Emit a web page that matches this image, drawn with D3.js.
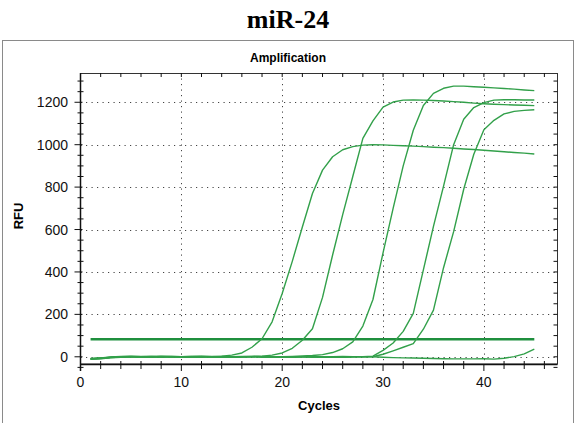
<!DOCTYPE html>
<html>
<head>
<meta charset="utf-8">
<script src="https://cdn.jsdelivr.net/npm/d3@7"></script>
<style>
  html, body { margin: 0; padding: 0; background: #fff; }
  svg { display: block; }
  text { font-family: "Liberation Sans", Arial, sans-serif; }
</style>
</head>
<body>
<div id="chart"></div>
<script>

var cycles = [1, 2, 3, 4, 5, 6, 7, 8, 9, 10, 11, 12, 13, 14, 15, 16, 17, 18, 19, 20, 21, 22,
  23, 24, 25, 26, 27, 28, 29, 30, 31, 32, 33, 34, 35, 36, 37, 38, 39, 40, 41, 42, 43, 44, 45]

// RFU per cycle, one array per well
var wellA = [-9, -6, -3, 0, 2, 1, -1, 1, 2, 0, -2, 1, 2, 3, 8, 18, 45, 85, 165, 298, 450, 612,
  770, 880, 943, 976, 991, 998, 1000, 999, 997, 995, 993, 991, 988, 986, 983, 980, 977, 974, 970, 967, 963, 960, 956]
var wellB = [-10, -7, -2, 1, 3, 0, -2, 0, 2, 1, -1, -2, 0, 2, 1, -1, 0, 3, 8, 18, 40, 78,
  132, 280, 480, 670, 850, 1030, 1112, 1177, 1201, 1210, 1211, 1210, 1208, 1206, 1203, 1200, 1196, 1193, 1191, 1189, 1187, 1186, 1184]
var wellC = [-8, -5, -1, 2, 0, -2, 1, 3, 1, -1, 0, 2, 1, -1, -2, 0, 2, 1, -1, 0, 2, 4,
  6, 10, 20, 38, 70, 145, 270, 490, 700, 900, 1068, 1185, 1242, 1266, 1276, 1276, 1273, 1271, 1268, 1265, 1262, 1258, 1255]
var wellD = [-12, -8, -4, -1, 1, 2, 0, -2, -1, 1, 2, 0, -2, -1, 1, 2, 0, -2, -3, -1, 1, 0,
  -2, -1, 1, 2, 1, 0, 3, 30, 65, 120, 205, 410, 615, 805, 1000, 1120, 1175, 1198, 1210, 1212, 1212, 1211, 1211]
var wellE = [-11, -9, -5, -2, 0, 1, 3, 1, -1, 0, 2, 3, 1, -2, -3, -1, 1, 2, 0, -2, -3, -1,
  0, -2, -3, -2, 0, 1, 0, 12, 28, 45, 62, 130, 220, 420, 590, 790, 955, 1070, 1115, 1145, 1157, 1162, 1165]
var wellF = [-10, -7, -3, 0, -1, -3, -1, 2, 0, -2, -1, 1, 0, -2, -1, 1, 2, 0, -2, -3, -1, 1,
  2, 0, -2, -3, -1, 1, 0, -2, -4, -5, -6, -7, -8, -9, -10, -10, -10, -9, -11, -7, 1, 14, 36]

var wells = [wellA, wellB, wellC, wellD, wellE, wellF]

var threshold = 83
var thresholdCycles = [1, 45]

var xTicks = [0, 10, 20, 30, 40]
var xMinor = [2, 4, 6, 8, 12, 14, 16, 18, 22, 24, 26, 28, 32, 34, 36, 38, 42, 44, 46]
var yTicks = [0, 200, 400, 600, 800, 1000, 1200]
var yMinor = [-50, 50, 100, 150, 250, 300, 350, 450, 500, 550, 650, 700, 750, 850, 900, 950,
  1050, 1100, 1150, 1250, 1300]


var width = 577, height = 423
var svg = d3.select('#chart').append('svg')
  .attr('width', width).attr('height', height)

svg.append('rect').attr('width', width).attr('height', height).attr('fill', '#fff')

// outer panel frame
svg.append('rect')
  .attr('x', 2.5).attr('y', 40.5).attr('width', 571).attr('height', 390)
  .attr('fill', 'none').attr('stroke', '#8a8a8a').attr('stroke-width', 1)

var x = d3.scaleLinear().domain([0, 47.3]).range([80.5, 557.5])
var y = d3.scaleLinear().domain([-34, 1338]).range([364, 73])

var plot = {left: x.range()[0], right: x.range()[1], top: y.range()[1], bottom: y.range()[0]}

// dotted grid
var grid = svg.append('g')
  .attr('stroke', '#444').attr('stroke-width', 1).attr('stroke-dasharray', '1.2,4.3')

grid.selectAll('line.gx').data(xTicks.slice(1)).join('line')
  .attr('x1', d => Math.round(x(d)) + 0.5).attr('x2', d => Math.round(x(d)) + 0.5)
  .attr('y1', plot.top).attr('y2', plot.bottom)

grid.selectAll('line.gy').data(yTicks).join('line')
  .attr('x1', plot.left).attr('x2', plot.right)
  .attr('y1', d => Math.round(y(d)) + 0.5).attr('y2', d => Math.round(y(d)) + 0.5)

// threshold
svg.append('line')
  .attr('x1', x(thresholdCycles[0])).attr('x2', x(thresholdCycles[1]))
  .attr('y1', y(threshold)).attr('y2', y(threshold))
  .attr('stroke', '#1f8f3e').attr('stroke-width', 2.4)

// amplification curves
var line = d3.line()
  .x((d, i) => x(cycles[i]))
  .y(d => y(d))

svg.append('g').selectAll('path').data(wells).join('path')
  .attr('d', line)
  .attr('fill', 'none')
  .attr('stroke', '#32a04a')
  .attr('stroke-width', 1.4)
  .attr('stroke-linejoin', 'round')

// plot frame + ticks
var axis = svg.append('g').attr('stroke', '#111').attr('stroke-width', 1)

axis.append('rect')
  .attr('x', plot.left).attr('y', plot.top + 0.5)
  .attr('width', plot.right - plot.left).attr('height', plot.bottom - plot.top - 0.5)
  .attr('fill', 'none').attr('stroke', '#333')

axis.append('line')
  .attr('x1', plot.left).attr('x2', plot.right)
  .attr('y1', plot.bottom + 0.5).attr('y2', plot.bottom + 0.5)
  .attr('stroke-width', 1.5)
axis.append('line')
  .attr('x1', plot.left).attr('x2', plot.left)
  .attr('y1', plot.top).attr('y2', plot.bottom + 7)
  .attr('stroke-width', 1.5)

// x axis ticks
axis.selectAll('line.xt').data(xTicks).join('line')
  .attr('x1', d => x(d)).attr('x2', d => x(d))
  .attr('y1', plot.bottom).attr('y2', plot.bottom + 7)
axis.selectAll('line.xm').data(xMinor).join('line')
  .attr('x1', d => x(d)).attr('x2', d => x(d))
  .attr('y1', plot.bottom - 3).attr('y2', plot.bottom + 5)
// top ticks
axis.selectAll('line.xtop').data(xTicks.concat(xMinor)).join('line')
  .attr('x1', d => x(d)).attr('x2', d => x(d))
  .attr('y1', plot.top).attr('y2', plot.top + 4)

// y axis ticks
axis.selectAll('line.yt').data(yTicks).join('line')
  .attr('x1', plot.left - 6).attr('x2', plot.left + 2)
  .attr('y1', d => y(d)).attr('y2', d => y(d))
axis.selectAll('line.ym').data(yMinor).join('line')
  .attr('x1', plot.left - 3).attr('x2', plot.left + 3)
  .attr('y1', d => y(d)).attr('y2', d => y(d))
// right ticks
axis.selectAll('line.yr').data(yTicks.concat(yMinor)).join('line')
  .attr('x1', plot.right - 4).attr('x2', plot.right)
  .attr('y1', d => y(d)).attr('y2', d => y(d))

// tick labels
svg.append('g').selectAll('text').data(yTicks).join('text')
  .attr('x', 68).attr('y', d => y(d)).attr('dy', '0.36em')
  .attr('text-anchor', 'end').attr('font-size', 14).attr('fill', '#111')
  .text(d => d)

svg.append('g').selectAll('text').data(xTicks).join('text')
  .attr('x', d => x(d)).attr('y', 387)
  .attr('text-anchor', 'middle').attr('font-size', 14).attr('fill', '#111')
  .text(d => d)

// titles
svg.append('text')
  .attr('x', 288).attr('y', 28)
  .attr('text-anchor', 'middle')
  .style('font-family', '"Liberation Serif", "Times New Roman", serif')
  .attr('font-size', 26).attr('font-weight', 'bold').attr('fill', '#000')
  .text('miR-24')

svg.append('text')
  .attr('x', 288).attr('y', 62)
  .attr('text-anchor', 'middle').attr('font-size', 12).attr('font-weight', 'bold')
  .text('Amplification')

svg.append('text')
  .attr('x', (plot.left + plot.right) / 2).attr('y', 410)
  .attr('text-anchor', 'middle').attr('font-size', 13).attr('font-weight', 'bold')
  .text('Cycles')

svg.append('text')
  .attr('transform', 'translate(23,216) rotate(-90)')
  .attr('text-anchor', 'middle').attr('font-size', 13).attr('font-weight', 'bold')
  .text('RFU')

</script>
</body>
</html>
